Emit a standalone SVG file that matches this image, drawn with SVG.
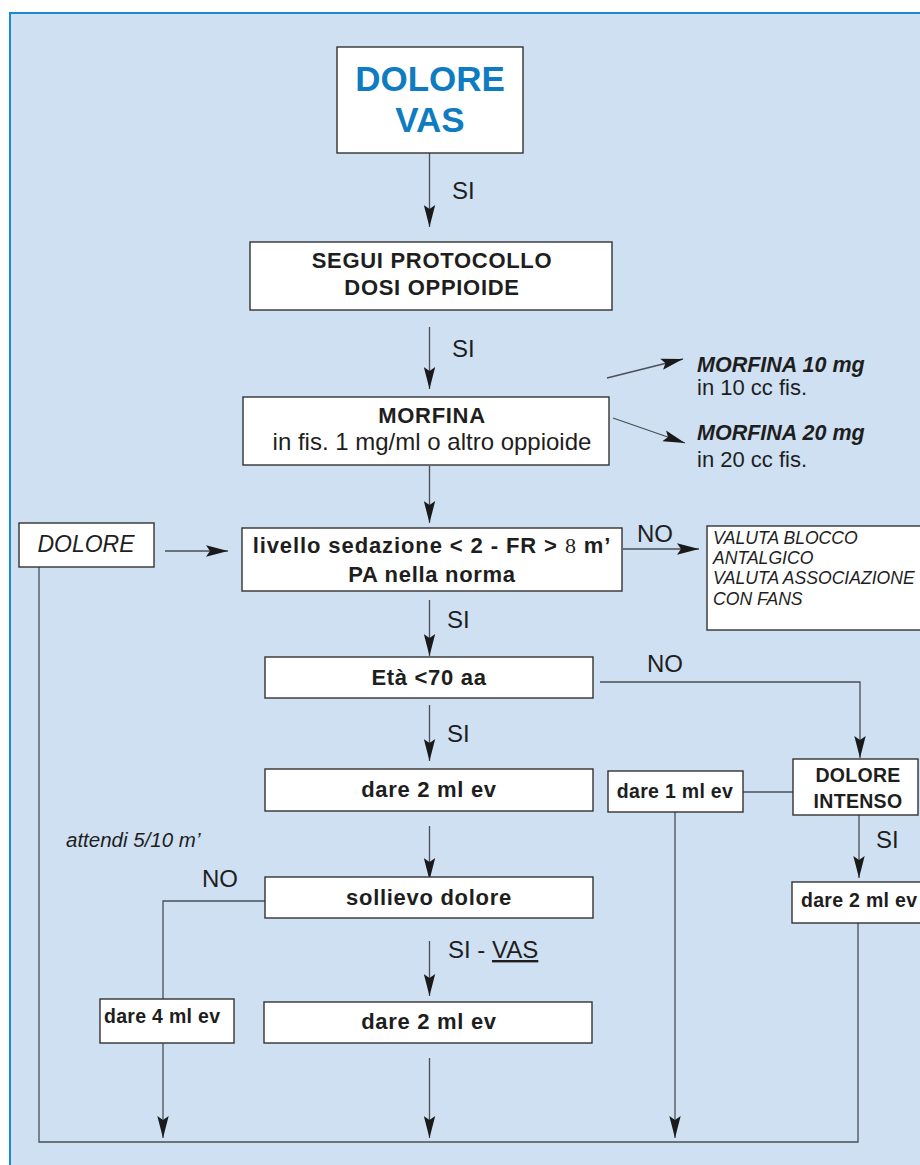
<svg xmlns="http://www.w3.org/2000/svg" width="920" height="1165" viewBox="0 0 920 1165">
<defs>
<marker id="ah" viewBox="0 0 22 12" refX="22" refY="6" markerWidth="22" markerHeight="12" markerUnits="userSpaceOnUse" orient="auto">
<path d="M0,0.3 L22,6 L0,11.7 L4,6 Z" fill="#1a1a1a"/>
</marker>
</defs>
<style>
.box{fill:#ffffff;stroke:#333333;stroke-width:1.4}
.c{fill:none;stroke:#4a4f55;stroke-width:1.3}
.ca{fill:none;stroke:#4a4f55;stroke-width:1.3;marker-end:url(#ah)}
text{font-family:"Liberation Sans",Arial,sans-serif;fill:#1e1e1e}
.b{font-weight:bold;font-size:22px;text-anchor:middle;letter-spacing:0.7px}
.bs{font-weight:bold;font-size:19.5px;letter-spacing:0.3px}
.r{font-size:24px}
.lab{font-size:24px}
.it{font-style:italic}
</style>
<rect x="10" y="13" width="930" height="1170" fill="#cfe0f2" stroke="#1a8ad4" stroke-width="2"/>

<g id="connectors">
<line class="ca" x1="429.5" y1="153" x2="429.5" y2="227"/>
<line class="ca" x1="429.5" y1="327" x2="429.5" y2="389"/>
<line class="ca" x1="607" y1="378" x2="683" y2="359"/>
<line class="ca" x1="613" y1="418" x2="685" y2="443"/>
<line class="ca" x1="429.5" y1="466" x2="429.5" y2="523"/>
<line class="ca" x1="165" y1="551" x2="228" y2="551"/>
<line class="ca" x1="623" y1="549" x2="699" y2="549"/>
<line class="ca" x1="429.5" y1="600" x2="429.5" y2="656"/>
<path class="ca" d="M600,682 H860 V758"/>
<line class="ca" x1="429.5" y1="705" x2="429.5" y2="761"/>
<line class="c" x1="743" y1="792" x2="793" y2="792"/>
<line class="ca" x1="859" y1="815" x2="859" y2="878"/>
<line class="ca" x1="429.5" y1="826" x2="429.5" y2="880"/>
<path class="c" d="M265,901 H163 V999"/>
<line class="ca" x1="429.5" y1="941" x2="429.5" y2="996"/>
<path class="c" d="M39,567 V1142 H858 V923"/>
<line class="ca" x1="163" y1="1043" x2="163" y2="1138"/>
<line class="ca" x1="429.5" y1="1058" x2="429.5" y2="1138"/>
<line class="ca" x1="675" y1="812" x2="675" y2="1138"/>
<text class="lab" x="452" y="199">SI</text>
<text class="lab" x="452" y="357">SI</text>
<text class="lab" x="637" y="542" font-size="25">NO</text>
<text class="lab" x="447" y="628">SI</text>
<text class="lab" x="647" y="672" font-size="25">NO</text>
<text class="lab" x="447" y="742">SI</text>
<text class="lab" x="876" y="848">SI</text>
<text class="lab" x="202" y="887" font-size="25">NO</text>
<text class="lab" x="448" y="958" font-size="25.5">SI - <tspan text-decoration="underline">VAS</tspan></text>
<text class="it" x="66" y="847" font-size="20.5">attendi 5/10 m’</text>
</g>

<g id="n-dolore-vas">
<rect class="box" x="337" y="47" width="186" height="106"/>
<text x="430" y="91" font-size="35" font-weight="bold" text-anchor="middle" style="fill:#0f7cc2">DOLORE</text>
<text x="430" y="132" font-size="35" font-weight="bold" text-anchor="middle" style="fill:#0f7cc2">VAS</text>
</g>

<g id="n-segui">
<rect class="box" x="250" y="242" width="362" height="68"/>
<text class="b" x="432" y="268">SEGUI PROTOCOLLO</text>
<text class="b" x="432" y="295">DOSI OPPIOIDE</text>
</g>

<g id="n-morfina">
<rect class="box" x="243" y="397" width="366" height="68"/>
<text class="b" x="432" y="423">MORFINA</text>
<text class="r" x="432" y="450" text-anchor="middle">in fis. 1 mg/ml o altro oppioide</text>
</g>

<g id="n-morfina10">
<text x="697" y="372" font-size="21.5" font-weight="bold" font-style="italic">MORFINA 10 mg</text>
<text x="697" y="395" font-size="22">in 10 cc fis.</text>
</g>

<g id="n-morfina20">
<text x="697" y="440" font-size="21.5" font-weight="bold" font-style="italic">MORFINA 20 mg</text>
<text x="697" y="467" font-size="22">in 20 cc fis.</text>
</g>

<g id="n-dolore-left">
<rect class="box" x="19" y="523" width="135" height="44"/>
<text class="it" x="86" y="552" font-size="23" text-anchor="middle">DOLORE</text>
</g>

<g id="n-livello">
<rect class="box" x="242" y="528" width="380" height="63"/>
<text class="b" x="432" y="553" style="letter-spacing:0.9px">livello sedazione &lt; 2 - FR &gt; <tspan font-family="Liberation Serif" font-weight="normal">8</tspan> m’</text>
<text class="b" x="432" y="582">PA nella norma</text>
</g>

<g id="n-valuta">
<rect class="box" x="707" y="526" width="230" height="104"/>
<text class="it" x="713" y="544" font-size="17.6">VALUTA BLOCCO</text>
<text class="it" x="713" y="564" font-size="17.6">ANTALGICO</text>
<text class="it" x="713" y="584" font-size="17.6">VALUTA ASSOCIAZIONE</text>
<text class="it" x="713" y="605" font-size="17.6">CON FANS</text>
</g>

<g id="n-eta">
<rect class="box" x="265" y="657" width="328" height="41"/>
<text class="b" x="429" y="685">Età &lt;70 aa</text>
</g>

<g id="n-dare2a">
<rect class="box" x="265" y="769" width="328" height="42"/>
<text class="b" x="429" y="797">dare 2 ml ev</text>
</g>

<g id="n-dare1">
<rect class="box" x="608" y="771" width="135" height="41"/>
<text class="bs" x="675" y="798" text-anchor="middle">dare 1 ml ev</text>
</g>

<g id="n-dolore-intenso">
<rect class="box" x="793" y="759" width="125" height="56"/>
<text class="bs" x="858" y="782" text-anchor="middle">DOLORE</text>
<text class="bs" x="858" y="808" text-anchor="middle">INTENSO</text>
</g>

<g id="n-dare2c">
<rect class="box" x="792" y="882" width="140" height="41"/>
<text class="bs" x="801" y="907">dare 2 ml ev</text>
</g>

<g id="n-sollievo">
<rect class="box" x="265" y="877" width="328" height="41"/>
<text class="b" x="429" y="905">sollievo dolore</text>
</g>

<g id="n-dare4">
<rect class="box" x="100" y="999" width="134" height="44"/>
<text class="bs" x="104" y="1023">dare 4 ml ev</text>
</g>

<g id="n-dare2b">
<rect class="box" x="264" y="1002" width="328" height="41"/>
<text class="b" x="429" y="1029">dare 2 ml ev</text>
</g>
</svg>
